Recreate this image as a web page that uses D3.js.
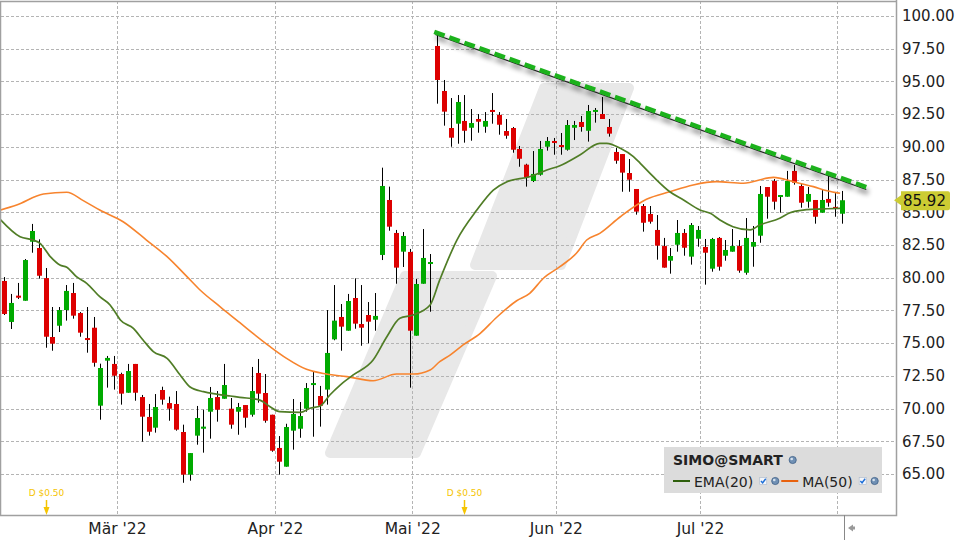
<!DOCTYPE html>
<html><head><meta charset="utf-8">
<script src="https://cdn.jsdelivr.net/npm/d3@7"></script>
<style>body{margin:0;background:#fff}svg{display:block}text{font-family:"DejaVu Sans",Verdana,sans-serif}</style>
</head><body><svg id="c" width="960" height="540"></svg>
<script>
// ---- data ----
const opens=[79.75,76.62,78.63,78.24,82.75,82.27,79.97,75.47,76.33,77.53,
78.83,77.30,75.39,76.18,70.22,73.66,73.41,72.64,71.21,73.41,
70.88,69.36,68.54,71.42,70.42,70.35,68.21,64.95,67.93,68.46,
69.76,70.88,70.75,69.99,69.76,70.27,69.53,72.72,71.19,69.53,
66.99,65.56,68.31,68.46,69.99,71.83,70.96,71.45,75.29,77.00,
75.95,78.45,76.46,77.15,76.79,81.74,85.94,83.42,81.99,81.97,
75.57,79.54,81.07,97.71,94.27,91.44,91.77,91.98,91.46,92.13,
91.54,92.82,92.44,91.21,91.44,89.84,88.64,87.39,87.87,90.01,
90.45,90.14,89.78,91.46,91.90,91.23,92.69,92.51,91.52,89.61,
89.45,88.00,86.78,85.48,84.87,83.65,82.42,81.30,82.52,83.42,
81.61,82.98,82.35,80.69,83.04,81.68,81.99,82.42,80.38,82.37,
83.21,86.93,87.39,86.19,86.19,88.16,87.01,85.81,85.94,84.97,
86.02,85.41,84.89];
const highs=[80.05,78.76,79.60,81.43,84.11,82.93,80.74,77.76,77.76,79.44,
79.60,77.38,77.76,77.00,73.43,74.02,74.02,72.74,73.41,73.41,
71.04,70.35,71.11,71.67,70.91,71.34,68.77,66.60,70.20,69.91,
71.65,71.34,73.41,70.81,70.43,70.27,73.18,73.79,72.64,69.53,
67.90,68.84,70.73,70.50,71.95,72.80,71.73,77.53,79.44,77.99,
78.76,79.95,79.44,78.14,78.83,88.41,86.96,83.65,83.49,82.20,
79.90,83.72,81.81,98.55,95.11,93.73,93.96,93.96,92.89,92.51,
92.66,94.11,92.66,92.13,91.52,90.07,88.71,89.68,90.45,90.75,
90.68,91.06,92.05,91.98,92.36,93.20,92.97,93.81,92.13,89.91,
89.45,89.07,86.78,85.63,85.48,84.79,83.04,82.27,84.41,83.72,
84.18,83.95,82.96,83.04,83.11,82.88,83.72,82.88,84.56,83.95,
87.01,86.93,87.54,86.32,88.16,88.61,87.16,86.93,85.94,86.78,
87.77,86.47,86.63];
const lows=[77.15,76.08,78.37,78.24,81.91,79.93,74.65,74.42,75.85,76.72,
76.87,75.49,74.27,73.20,69.15,71.60,71.45,70.30,71.21,70.60,
67.47,67.93,68.16,70.30,69.07,68.31,64.33,64.49,67.24,66.63,
67.70,69.00,70.75,68.46,68.00,68.54,69.38,70.45,68.92,66.70,
64.95,65.56,66.86,67.77,69.76,67.85,68.62,70.30,75.22,74.42,
75.95,76.10,74.80,74.99,75.95,81.35,83.59,79.54,80.82,71.60,
75.57,79.54,77.40,93.30,91.62,90.01,90.24,90.32,90.47,91.08,
91.08,91.77,90.93,90.62,89.55,88.48,86.96,87.31,87.80,89.71,
89.40,89.40,89.71,90.52,91.16,90.40,91.85,92.13,90.78,88.71,
86.57,86.57,84.82,83.52,84.13,81.38,80.77,80.31,81.99,81.68,
81.00,82.37,79.47,80.46,80.54,81.30,81.99,80.38,80.23,80.84,
82.67,84.51,85.20,84.97,86.19,87.11,85.35,85.35,84.13,84.97,
85.43,84.66,84.13];
const closes=[77.23,78.07,78.47,81.35,83.57,80.15,75.49,74.96,77.53,78.99,
77.10,75.80,75.26,73.50,73.10,73.87,72.51,71.14,72.87,71.21,
69.38,68.23,70.12,70.68,69.99,68.39,64.95,66.60,69.28,68.62,
70.81,69.91,71.80,68.77,70.12,69.30,71.34,71.14,69.07,66.78,
65.94,68.59,69.59,69.43,71.57,71.95,70.22,74.25,76.72,76.26,
78.22,76.49,76.18,76.64,77.08,87.01,83.90,80.77,83.19,75.95,
79.52,81.51,81.20,95.11,92.69,90.70,93.43,91.23,91.82,91.92,
91.98,92.69,91.69,90.85,89.78,89.09,87.67,87.93,89.84,90.45,
90.32,90.01,91.67,91.67,91.52,92.74,92.82,92.13,91.01,88.94,
88.03,87.49,85.05,84.20,84.28,82.45,80.77,81.66,83.42,82.29,
84.03,83.65,81.91,82.96,80.84,82.12,82.42,80.54,83.04,82.73,
86.40,86.19,85.81,86.32,87.39,87.26,85.73,86.40,84.66,85.94,
85.73,85.31,85.92];

const emaIdx=[-0.6,2.3,4.2,5.2,6.7,8.1,9.1,10.5,12.0,13.9,15.4,16.1,16.9,18.8,20.2,21.7,23.7,25.6,27.0,29.0,
30.9,32.9,34.3,37.2,38.7,40.1,43.1,44.5,46.0,47.4,48.9,50.8,53.7,55.7,57.6,59.5,62.0,63.4,65.9,68.8,
71.2,73.2,76.5,79.0,80.9,83.8,86.7,87.7,89.7,91.6,92.6,94.5,96.9,98.9,101.3,102.8,104.2,106.1,108.6,110.0,
112.9,114.4,116.3,117.8,119.8,121.7];
const emaVal=[84.46,83.13,82.88,82.63,81.61,80.97,80.80,80.08,79.57,78.55,77.92,77.40,76.77,76.13,75.24,74.35,73.84,72.57,71.67,71.29,
71.11,70.96,70.86,70.65,70.14,69.76,69.71,70.02,70.20,71.04,71.80,72.57,73.71,75.49,76.90,77.15,77.92,79.83,82.88,85.17,
86.70,87.34,87.72,88.23,88.56,89.38,90.27,90.27,89.89,89.25,88.74,87.72,86.57,85.94,85.17,84.92,84.41,83.90,83.65,84.03,
84.54,84.97,85.17,85.23,85.27,85.30];

const maIdx=[-0.6,1.8,5.7,9.1,11.5,13.9,17.3,20.7,23.7,26.6,28.5,31.4,34.3,35.3,38.7,41.1,44.0,46.9,49.9,53.7,
57.1,59.6,62.0,63.4,64.9,66.8,69.3,71.7,74.6,76.5,78.5,80.9,83.3,84.8,86.7,89.7,93.5,96.9,100.3,103.7,
107.6,112.0,114.9,117.8,119.8,121.7];
const maVal=[85.17,85.56,86.40,86.53,85.89,85.17,84.28,82.88,81.61,80.08,79.06,77.79,76.56,76.13,74.73,73.84,73.00,72.64,72.44,72.13,
72.64,72.64,72.95,73.58,74.09,74.86,75.75,76.98,78.24,78.81,79.96,80.84,81.87,82.88,83.39,84.66,85.99,86.57,87.09,87.34,
87.22,87.67,87.34,86.96,86.65,86.45];

const yTicks=[65,67.5,70,72.5,75,77.5,80,82.5,85,87.5,90,92.5,95,97.5,100];
const monthIdx=[16.4,39.4,59.4,80.3,101.3,121.2];
const monthLabels=["Mär '22","Apr '22","Mai '22","Jun '22","Jul '22",""];
const divIdx=[6,67];
const divLabels=["D $0.50","D $0.50"];
const trendIdx=[62.6,125.5];
const trendVal=[98.78,86.93];
const lastPrice=85.92;
const symbol="SIMO@SMART";
const legendNames=["EMA(20)","MA(50)"];

// ---- layout ----
const P={l:1,t:1,r:896,b:515};
const svg=d3.select("#c");
const x=d3.scaleLinear().domain([0,122]).range([4.3,842.2]);
const y=d3.scaleLinear().domain([65,100]).range([474,16]);

const defs=svg.append("defs");
defs.append("clipPath").attr("id","clip").append("rect")
  .attr("x",P.l).attr("y",P.t).attr("width",P.r-P.l).attr("height",P.b-P.t);
const f=defs.append("filter").attr("id","sh").attr("x","-10%").attr("y","-30%").attr("width","130%").attr("height","160%");
f.append("feGaussianBlur").attr("in","SourceAlpha").attr("stdDeviation",2.4).attr("result","b");
f.append("feOffset").attr("in","b").attr("dx",2).attr("dy",5).attr("result","o");
const ct=f.append("feComponentTransfer").attr("in","o").attr("result","s");
ct.append("feFuncA").attr("type","linear").attr("slope",0.4);
const fm=f.append("feMerge");fm.append("feMergeNode").attr("in","s");fm.append("feMergeNode").attr("in","SourceGraphic");

const g=svg.append("g").attr("clip-path","url(#clip)");

// watermark
const wm=g.append("g").attr("fill","#e8e8e8").attr("stroke","#e8e8e8").attr("stroke-width",10).attr("stroke-linejoin","round");
[[[544,88],[629,88],[561,265],[475,265]],[[405,276],[492,276],[416,453],[330,453]]].forEach(p=>{
  wm.append("path").attr("d","M"+p.map(q=>q.join(",")).join("L")+"Z");
});

// grid
const grid=g.append("g").attr("stroke","#b4b4b4").attr("stroke-dasharray","3,2").attr("stroke-width",1);
grid.selectAll(".h").data(yTicks).join("line")
  .attr("x1",P.l).attr("x2",P.r).attr("y1",d=>Math.round(y(d))+0.5).attr("y2",d=>Math.round(y(d))+0.5);
grid.selectAll(".v").data(monthIdx).join("line")
  .attr("y1",P.t).attr("y2",P.b).attr("x1",d=>Math.round(x(d))+0.5).attr("x2",d=>Math.round(x(d))+0.5);

// dividends
const dv=g.append("g").attr("fill","#f5c400");
divIdx.forEach((d,k)=>{
  const cx=Math.round(x(d))+0.5;
  dv.append("text").attr("x",cx).attr("y",496).attr("text-anchor","middle").attr("font-size",9).text(divLabels[k]);
  dv.append("line").attr("x1",cx).attr("x2",cx).attr("y1",500).attr("y2",509).attr("stroke","#f5c400").attr("stroke-width",1.5);
  dv.append("path").attr("d",`M${cx-3},507L${cx+3},507L${cx},515Z`);
});

// candles
const idx=d3.range(opens.length);
const cg=g.append("g");
cg.selectAll(".w").data(idx).join("line")
  .attr("x1",i=>Math.round(x(i))+0.5).attr("x2",i=>Math.round(x(i))+0.5)
  .attr("y1",i=>y(highs[i])).attr("y2",i=>y(lows[i])).attr("stroke","#000").attr("stroke-width",1);
cg.selectAll(".b").data(idx).join("rect")
  .attr("x",i=>Math.round(x(i))-2).attr("width",5)
  .attr("y",i=>y(Math.max(opens[i],closes[i])))
  .attr("height",i=>Math.max(2,Math.abs(y(opens[i])-y(closes[i]))))
  .attr("fill",i=>closes[i]>=opens[i]?"#00aa00":"#dd0000");

// moving averages
const line=d3.line().x(d=>x(d[0])).y(d=>y(d[1])).curve(d3.curveMonotoneX);
g.append("path").datum(maIdx.map((d,k)=>[d,maVal[k]])).attr("d",line)
  .attr("fill","none").attr("stroke","#f7842e").attr("stroke-width",1.6);
g.append("path").datum(emaIdx.map((d,k)=>[d,emaVal[k]])).attr("d",line)
  .attr("fill","none").attr("stroke","#507d26").attr("stroke-width",1.7);

// trend line
const tg=g.append("g").attr("filter","url(#sh)");
const tp=trendIdx.map((d,k)=>[x(d),y(trendVal[k])]);
tg.append("line").attr("x1",tp[0][0]+1).attr("y1",tp[0][1]+2.5).attr("x2",tp[1][0]).attr("y2",tp[1][1]+2.5)
  .attr("stroke","#222").attr("stroke-width",1.2);
tg.append("line").attr("x1",tp[0][0]).attr("y1",tp[0][1]).attr("x2",tp[1][0]).attr("y2",tp[1][1])
  .attr("stroke","#1db21d").attr("stroke-width",4.5).attr("stroke-dasharray","11,5");

// frame
const fr=svg.append("g").attr("stroke","#a0a0a0").attr("fill","none");
fr.append("path").attr("d",`M${P.r+0.5},0V${P.b+0.5}H${P.l-0.5}V${P.t-0.5+1}H${P.r}`).attr("stroke-width",1.5);
fr.append("line").attr("x1",844.5).attr("x2",844.5).attr("y1",P.b).attr("y2",540).attr("stroke","#888");
svg.append("path").attr("d","M848,528L853,524.5V526.5H855V529.5H853V531.5Z").attr("fill","#999");

// y axis
const ya=svg.append("g").attr("transform",`translate(${P.r},0)`)
  .call(d3.axisRight(y).tickValues(yTicks).tickFormat(d3.format(".2f")).tickSize(0).tickPadding(6));
ya.select(".domain").remove();
ya.selectAll("text").attr("font-size",15).attr("fill","#222").attr("font-family","DejaVu Sans");

// x axis
const xa=svg.append("g").attr("transform",`translate(0,${P.b})`)
  .call(d3.axisBottom(x).tickValues(monthIdx).tickFormat((d,k)=>monthLabels[k]).tickSize(0).tickPadding(0));
xa.select(".domain").remove();
xa.selectAll("text").attr("font-size",15.5).attr("fill","#222").attr("font-family","DejaVu Sans").attr("y",19).attr("dy",0);

// price tag
const py=y(lastPrice);
svg.append("path").attr("d",`M894,${py}L901,${py-5}V${py-9}H948a2,2 0 0 1 2,2V${py+8}a2,2 0 0 1 -2,2H901V${py+5}Z`).attr("fill","#cccc33");
svg.append("text").attr("x",903).attr("y",py+5.5).attr("font-size",15).attr("fill","#111").text(d3.format(".2f")(lastPrice));

// legend
const lg=svg.append("g");
lg.append("rect").attr("x",664).attr("y",447).attr("width",218).attr("height",46).attr("fill","#dcdcdc");
function globe(cx,cy){
  lg.append("circle").attr("cx",cx).attr("cy",cy).attr("r",3.6).attr("fill","#7090b4").attr("stroke","#3f5f86").attr("stroke-width",0.8);
  lg.append("circle").attr("cx",cx-1).attr("cy",cy-1).attr("r",1.3).attr("fill","#d6e2ee");
}
function check(cx,cy){
  lg.append("rect").attr("x",cx-3.5).attr("y",cy-3.5).attr("width",7).attr("height",7).attr("fill","#f4f6fa").attr("stroke","#a9b8cc").attr("stroke-width",0.6);
  lg.append("path").attr("d",`M${cx-2.3},${cy}L${cx-0.6},${cy+1.8}L${cx+2.5},${cy-2.2}`).attr("fill","none").attr("stroke","#1e6fd8").attr("stroke-width",1.4);
}
const st=lg.append("text").attr("x",673).attr("y",465).attr("font-size",14).attr("font-weight","bold").attr("fill","#222").text(symbol);
globe(673+st.node().getComputedTextLength()+10,460);
const lcol=["#2e5f0c","#e8620f"];
let cx=673;
legendNames.forEach((n,k)=>{
  lg.append("line").attr("x1",cx).attr("x2",cx+17).attr("y1",481).attr("y2",481).attr("stroke",lcol[k]).attr("stroke-width",2);
  const t=lg.append("text").attr("x",cx+21).attr("y",486.5).attr("font-size",14).attr("fill","#222").text(n);
  const e=cx+21+t.node().getComputedTextLength();
  check(e+10,481); globe(e+22,481);
  cx=e+28;
});
</script></body></html>
